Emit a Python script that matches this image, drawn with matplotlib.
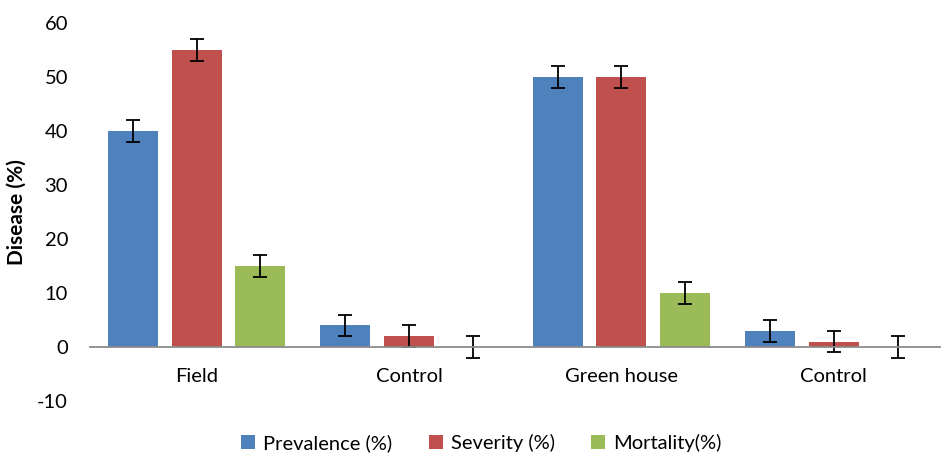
import numpy as np
import matplotlib.pyplot as plt

plt.rcParams['font.family'] = ['Lato', 'DejaVu Sans']
plt.rcParams['axes.unicode_minus'] = False

categories = ['Field', 'Control', 'Green house', 'Control']
prevalence = [40, 4, 50, 3]
severity = [55, 2, 50, 1]
mortality = [15, 0, 10, 0]
err = [2, 2, 2, 2]

series = [('Prevalence (%)', prevalence, '#4F81BD'),
          ('Severity (%)', severity, '#C0504D'),
          ('Mortality(%)', mortality, '#9BBB59')]

fig = plt.figure(figsize=(9.41, 4.55), dpi=100)
ax = fig.add_axes([0.096, 0.119, 0.903, 0.83])

x = np.arange(len(categories))
width = 0.235
step = 0.30
for i, (name, vals, color) in enumerate(series):
    ax.bar(x + (i - 1) * step, vals, width, color=color, label=name,
           yerr=err, error_kw=dict(ecolor='black', elinewidth=1.3, capsize=5, capthick=1.3))

ax.set_xlim(-0.5, len(categories) - 0.5)
ax.set_ylim(-10, 60)
ax.set_yticks(range(-10, 61, 10))
ax.set_xticks(x)
ax.set_xticklabels(categories)

for s in ['top', 'right', 'left']:
    ax.spines[s].set_visible(False)
ax.spines['bottom'].set_position(('data', 0))
ax.spines['bottom'].set_color('#8c8c8c')
ax.spines['bottom'].set_linewidth(1.3)
ax.tick_params(axis='x', length=0, pad=15, labelsize=14.5)
ax.tick_params(axis='y', length=0, pad=16, labelsize=14.5)

ax.set_ylabel('Disease (%)', fontsize=15, fontweight='bold')
ax.yaxis.set_label_coords(-0.075, 0.5)

ax.legend(loc='lower center', bbox_to_anchor=(0.46, -0.183), ncol=3, frameon=False,
          fontsize=14.5, handlelength=0.7, handleheight=0.7, columnspacing=1.8,
          handletextpad=0.4)

fig.savefig('out.png', dpi=100)
